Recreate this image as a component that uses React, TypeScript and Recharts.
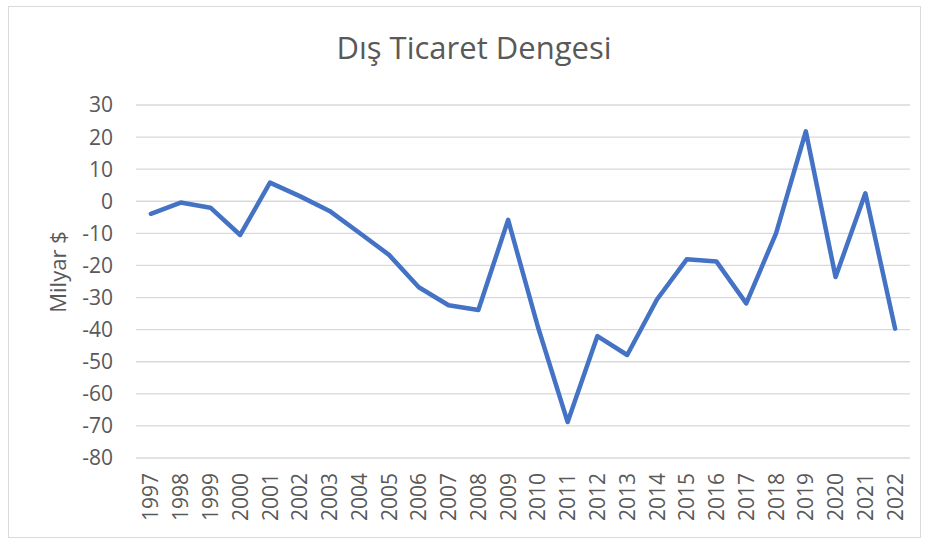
import React from 'react';
import { LineChart, Line, XAxis, YAxis, CartesianGrid } from 'recharts';

const years = ['1997','1998','1999','2000','2001','2002','2003','2004','2005','2006','2007','2008','2009','2010','2011','2012','2013','2014','2015','2016','2017','2018','2019','2020','2021','2022'];
const balance = [-3.9,-0.4,-2.0,-10.5,5.8,1.6,-3.0,-9.8,-16.7,-26.8,-32.4,-33.9,-5.8,-39.1,-68.8,-42.0,-47.9,-30.6,-18.1,-18.8,-31.8,-10.0,21.8,-23.6,2.5,-39.7];
const yTicks = [-80,-70,-60,-50,-40,-30,-20,-10,0,10,20,30];
const title = 'Dış Ticaret Dengesi';
const yLabel = 'Milyar $';

const data = years.map((y, i) => ({ year: y, value: balance[i] }));

const FONT = '"Open Sans", sans-serif';
const TXT = '#595959';

const XTick = (props: any) => {
  const { x, y, payload } = props;
  return (
    <g transform={`translate(${x},${y + 15}) rotate(-90)`}>
      <text textAnchor="end" dy="0.36em" fill={TXT} fontSize={21} fontFamily={FONT}>
        {payload.value}
      </text>
    </g>
  );
};

export default function App() {
  return (
    <div style={{ position: 'absolute', left: 8, top: 6, width: 913, height: 532, boxSizing: 'border-box', border: '1px solid #d9d9d9', background: '#fff' }}>
      <LineChart width={911} height={530} data={data} margin={{ top: 98, right: 10, left: 0, bottom: 0 }}>
        <CartesianGrid vertical={false} stroke="#d9d9d9" strokeWidth={1.3} />
        <XAxis dataKey="year" scale="band" axisLine={false} tickLine={false} tickSize={0} tickMargin={0} height={79} interval={0} tick={<XTick />} />
        <YAxis domain={[-80, 30]} ticks={yTicks} interval={0} axisLine={false} tickLine={false} tickSize={0} tickMargin={23} width={127}
          tick={{ fill: TXT, fontSize: 21, fontFamily: FONT }} />
        <Line type="linear" dataKey="value" stroke="#4472C4" strokeWidth={4.5} dot={false} isAnimationActive={false} strokeLinejoin="round" strokeLinecap="round" />
        <text x={465} y={52} textAnchor="middle" fill={TXT} fontSize={31} fontFamily={FONT}>{title}</text>
        <text x={49} y={265} textAnchor="middle" fill={TXT} fontSize={22} fontFamily={FONT} transform="rotate(-90 49 265)" dy="0.35em">{yLabel}</text>
      </LineChart>
    </div>
  );
}
